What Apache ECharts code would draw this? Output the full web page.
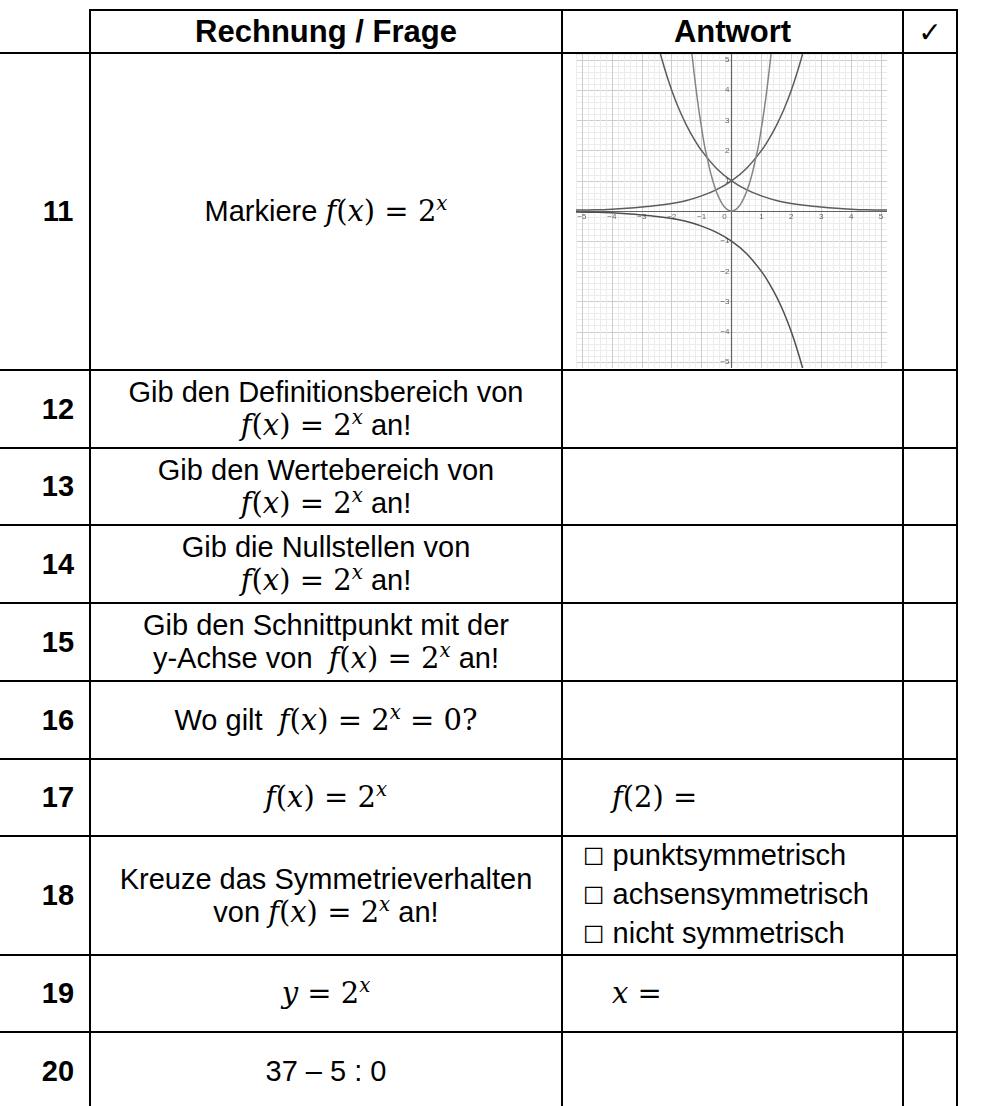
<!DOCTYPE html>
<html>
<head>
<meta charset="utf-8">
<title>f(x) = 2^x</title>
<script src="https://cdn.jsdelivr.net/npm/echarts@6/dist/echarts.min.js"></script>
<style>
html, body { margin: 0; padding: 0; background: #fff; }
.page { position: relative; width: 986px; height: 1106px; overflow: hidden; font-family: 'Liberation Sans', Arial, sans-serif; color: #000; }
.hl { position: absolute; height: 2px; background: #000; }
.vl { position: absolute; width: 2px; background: #000; }
.cell { position: absolute; display: flex; flex-direction: column; justify-content: center; align-items: center; text-align: center; font-size: 29px; line-height: 33px; white-space: nowrap; }
.cell_left { align-items: flex-start; text-align: left; }
.num { font-weight: bold; }
.head { font-weight: bold; font-size: 31px; }
.tick { font-family: 'DejaVu Sans', sans-serif; font-weight: normal; font-size: 28px; }
.m { font-family: 'DejaVu Serif', serif; font-size: 29px; }
.m sup { font-size: 0.68em; vertical-align: 0.55em; line-height: 0; }
.box { font-family: 'DejaVu Sans', sans-serif; font-size: 24px; }
.checks { line-height: 37px; }
#chart { position: absolute; left: 576px; top: 54px; width: 311px; height: 314px; }
</style>
</head>
<body>
<div class="page" id="page">
  <div id="chart"></div>
</div>
<script>
// Tabelle
const headers = ['Rechnung / Frage', 'Antwort', '<span class="tick">\u2713</span>']
const rowNumbers = ['11', '12', '13', '14', '15', '16', '17', '18', '19', '20']
const FX = '<span class="m"><i>f</i>(<i>x</i>) = 2<sup><i>x</i></sup></span>'
const questions = [
  'Markiere ' + FX,
  'Gib den Definitionsbereich von<br>' + FX + ' an!',
  'Gib den Wertebereich von<br>' + FX + ' an!',
  'Gib die Nullstellen von<br>' + FX + ' an!',
  'Gib den Schnittpunkt mit der<br>y-Achse von&nbsp; ' + FX + ' an!',
  'Wo gilt&nbsp; <span class="m"><i>f</i>(<i>x</i>) = 2<sup><i>x</i></sup> = 0?</span>',
  FX,
  'Kreuze das Symmetrieverhalten<br>von ' + FX + ' an!',
  '<span class="m"><i>y</i> = 2<sup><i>x</i></sup></span>',
  '37 \u2013 5 : 0'
]
const answers = [
  '',
  '',
  '',
  '',
  '',
  '',
  '<span class="m"><i>f</i>(2) =</span>',
  '<div class="checks"><span class="box">\u2610</span> punktsymmetrisch<br><span class="box">\u2610</span> achsensymmetrisch<br><span class="box">\u2610</span> nicht symmetrisch</div>',
  '<span class="m"><i>x</i> =</span>',
  ''
]

// Graph
const xTickLabels = [-5, -4, -3, -2, -1, 0, 1, 2, 3, 4, 5]
const yTickLabels = [-5, -4, -3, -2, -1, 1, 2, 3, 4, 5]
const expUp = [[-5.2, 0.03], [-4.5, 0.04], [-4, 0.06], [-3.5, 0.09], [-3, 0.13], [-2.5, 0.18], [-2, 0.25], [-1.5, 0.35], [-1, 0.5], [-0.5, 0.71], [0, 1], [0.5, 1.41], [1, 2], [1.25, 2.38], [1.5, 2.83], [1.75, 3.36], [2, 4], [2.25, 4.76], [2.5, 5.66]]
const expDown = [[-2.5, 5.66], [-2.25, 4.76], [-2, 4], [-1.75, 3.36], [-1.5, 2.83], [-1.25, 2.38], [-1, 2], [-0.5, 1.41], [0, 1], [0.5, 0.71], [1, 0.5], [1.5, 0.35], [2, 0.25], [2.5, 0.18], [3, 0.13], [3.5, 0.09], [4, 0.06], [4.5, 0.04], [5.2, 0.03]]
const parabola = [[-1.4, 5.9], [-1.3, 5.0], [-1.2, 4.15], [-1.1, 3.4], [-1.0, 2.75], [-0.9, 2.15], [-0.8, 1.7], [-0.7, 1.27], [-0.6, 0.92], [-0.5, 0.63], [-0.4, 0.4], [-0.3, 0.22], [-0.2, 0.1], [-0.1, 0.025], [0, 0], [0.1, 0.025], [0.2, 0.1], [0.3, 0.22], [0.4, 0.4], [0.5, 0.63], [0.6, 0.92], [0.7, 1.27], [0.8, 1.7], [0.9, 2.15], [1.0, 2.75], [1.1, 3.4], [1.2, 4.15], [1.3, 5.0], [1.4, 5.9]]
const expNeg = [[-5.2, -0.03], [-4.5, -0.04], [-4, -0.06], [-3.5, -0.09], [-3, -0.13], [-2.5, -0.18], [-2, -0.25], [-1.5, -0.35], [-1, -0.5], [-0.5, -0.71], [0, -1], [0.5, -1.41], [1, -2], [1.25, -2.38], [1.5, -2.83], [1.75, -3.36], [2, -4], [2.25, -4.76], [2.5, -5.66]]

// Layout
const rowEdges = [10, 53, 370, 448, 525, 603, 681, 759, 836, 955, 1032, 1110]
const colEdges = [26, 90, 562, 903, 957]
const answerPad = { 6: 50, 7: 21, 8: 50 }

const page = document.getElementById('page')
function addDiv (cls, left, top, width, height, html) {
  const d = document.createElement('div')
  d.className = cls
  d.style.left = left + 'px'
  d.style.top = top + 'px'
  if (width !== null) d.style.width = width + 'px'
  if (height !== null) d.style.height = height + 'px'
  if (html !== undefined) d.innerHTML = '<div>' + html + '</div>'
  page.appendChild(d)
  return d
}

// Linien
rowEdges.forEach(function (y, i) {
  const x0 = i === 0 ? colEdges[1] - 1 : 0
  addDiv('hl', x0, y - 1, colEdges[4] + 1 - x0, null)
})
colEdges.slice(1).forEach(function (x) {
  addDiv('vl', x - 1, rowEdges[0] - 1, null, 1106 - rowEdges[0] + 1)
})

// Kopfzeile
headers.forEach(function (h, i) {
  addDiv('cell head', colEdges[i + 1], rowEdges[0], colEdges[i + 2] - colEdges[i + 1], rowEdges[1] - rowEdges[0], h)
})

// Zeilen
rowNumbers.forEach(function (n, r) {
  const top = rowEdges[r + 1]
  const h = rowEdges[r + 2] - top
  addDiv('cell num', colEdges[0], top, colEdges[1] - colEdges[0], h, n)
  addDiv('cell', colEdges[1], top, colEdges[2] - colEdges[1], h, questions[r])
  if (answers[r]) {
    const c = addDiv('cell cell_left', colEdges[2], top, colEdges[3] - colEdges[2], h, answers[r])
    c.style.paddingLeft = answerPad[r] + 'px'
    c.style.boxSizing = 'border-box'
  }
})

// Koordinatensystem
function minus (v) {
  return String(v).replace('-', '\u2212')
}
const gridColors = ['#ececec', '#cdcdcd', '#ececec', '#ececec', '#ececec']
const labelStyle = { fontSize: 8, color: '#3a3a3a', fontFamily: 'sans-serif' }

function curve (data, color) {
  return {
    type: 'line',
    data: data,
    smooth: 0.35,
    showSymbol: false,
    silent: true,
    clip: true,
    lineStyle: { color: color, width: 1.5 }
  }
}

// Achsenbeschriftung als Punkte auf den Achsen
function tickSeries (data, position) {
  return {
    type: 'scatter',
    data: data,
    symbolSize: 0,
    silent: true,
    z: 5,
    label: Object.assign({
      show: true,
      position: position,
      distance: 2,
      formatter: function (p) {
        return minus(position === 'bottom' ? p.value[0] : p.value[1])
      }
    }, labelStyle)
  }
}
const xTickData = xTickLabels.map(function (v) {
  return v === 0 ? { value: [v, 0], label: { offset: [-7, 0] } } : [v, 0]
})
const yTickData = yTickLabels.map(function (v) { return [0, v] })

let myChart = echarts.init(document.getElementById('chart'))
myChart.setOption({
  animation: false,
  backgroundColor: '#fff',
  grid: { left: 0, right: 0, top: 0, bottom: 0 },
  xAxis: {
    type: 'value',
    min: -5.2,
    max: 5.2,
    interval: 0.2,
    axisLine: { onZero: true, lineStyle: { color: '#626262', width: 1.2 } },
    axisTick: { show: false },
    axisLabel: { show: false },
    splitLine: { show: true, lineStyle: { color: gridColors, width: 1 } }
  },
  yAxis: {
    type: 'value',
    min: -5.2,
    max: 5.2,
    interval: 0.2,
    axisLine: { onZero: true, lineStyle: { color: '#626262', width: 1.2 } },
    axisTick: { show: false },
    axisLabel: { show: false },
    splitLine: { show: true, lineStyle: { color: gridColors, width: 1 } }
  },
  series: [
    curve(expUp, '#5c5c5c'),
    curve(expDown, '#5c5c5c'),
    curve(parabola, '#858585'),
    curve(expNeg, '#4f4f4f'),
    tickSeries(xTickData, 'bottom'),
    tickSeries(yTickData, 'left')
  ]
})
</script>
</body>
</html>
